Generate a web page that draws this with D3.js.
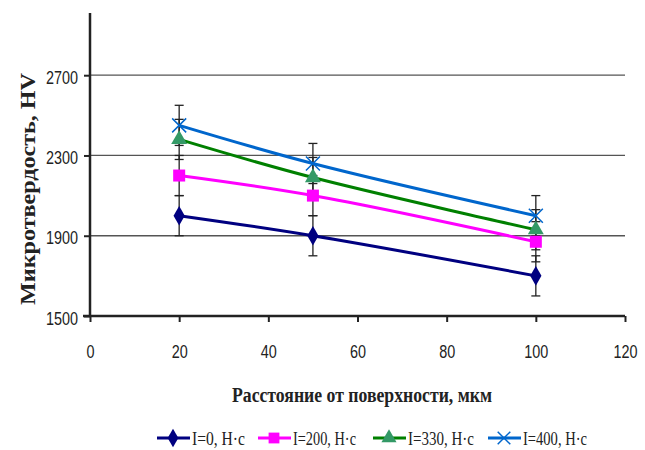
<!DOCTYPE html>
<html>
<head>
<meta charset="utf-8">
<script src="https://cdn.jsdelivr.net/npm/d3@7"></script>
<style>
  body{margin:0;background:#fff;}
  .tick text{font-family:"Liberation Sans",Arial,sans-serif;font-size:18px;fill:#222;}
  .ttl{font-family:"Liberation Serif","Times New Roman",serif;font-weight:bold;font-size:20px;fill:#222;}
  .leg{font-family:"Liberation Serif","Times New Roman",serif;font-size:19px;fill:#222;}
</style>
</head>
<body>
<div id="chart"></div>
<script>
const distances=[20,50,100];
const seriesNames=["I=0, Н·с","I=200, Н·с","I=330, Н·с","I=400, Н·с"];
const hv0=[2000,1900,1700];
const hv200=[2200,2100,1870];
const hv330=[2380,2190,1930];
const hv400=[2450,2260,2000];
const errHV=[100,100,100];
const xTicks=[0,20,40,60,80,100,120];
const yTicks=[1500,1900,2300,2700];

const W=645,H=450;
const svg=d3.select('#chart').append('svg').attr('width',W).attr('height',H);
const x=d3.scaleLinear().domain([0,120]).range([90,625]);
const y=d3.scaleLinear().domain([1500,3000]).range([316,15]);

const series=[
  {name:seriesNames[0],vals:hv0,line:'#000080',fill:'#000080',sym:'diamond'},
  {name:seriesNames[1],vals:hv200,line:'#ff00ff',fill:'#ff00ff',sym:'square'},
  {name:seriesNames[2],vals:hv330,line:'#008000',fill:'#339966',sym:'triangle'},
  {name:seriesNames[3],vals:hv400,line:'#0066cc',fill:'#0066cc',sym:'x'}
];

// сжать текст по ширине (узкий шрифт)
function narrow(sel,k){
  sel.each(function(){
    const w=this.getComputedTextLength();
    d3.select(this).attr('textLength',w*k).attr('lengthAdjust','spacingAndGlyphs');
  });
}

// сетка
svg.append('g').selectAll('line').data(yTicks.slice(1)).join('line')
  .attr('x1',x(0)).attr('x2',x(120)).attr('y1',d=>y(d)).attr('y2',d=>y(d))
  .attr('stroke','#555').attr('stroke-width',1.3);

// оси
const gx=svg.append('g').attr('transform',`translate(0,${y(1500)})`)
  .call(d3.axisBottom(x).tickValues(xTicks).tickSize(6).tickPadding(23));
const gy=svg.append('g').attr('transform',`translate(${x(0)},0)`)
  .call(d3.axisLeft(y).tickValues(yTicks).tickFormat(d3.format('d')).tickSize(6).tickPadding(6));
[gx,gy].forEach(g=>{
  g.select('.domain').attr('stroke','#222').attr('stroke-width',2.5);
  g.selectAll('.tick line').attr('stroke','#222').attr('stroke-width',2);
  narrow(g.selectAll('.tick text'),0.8);
});
gy.selectAll('.tick text').attr('dy','0.45em');
gy.select('.domain').attr('d',`M0,${y(1500)}V13`);
gx.select('.domain').attr('d',`M${x(0)-7},0H${x(120)}`);

// погрешности
const eb=svg.append('g').attr('stroke','#222').attr('stroke-width',1.3);
series.forEach(s=>{
  s.vals.forEach((v,i)=>{
    const cx=x(distances[i]);
    eb.append('line').attr('x1',cx).attr('x2',cx).attr('y1',y(v-errHV[i])).attr('y2',y(v+errHV[i]));
    [v-errHV[i],v+errHV[i]].forEach(e=>{
      eb.append('line').attr('x1',cx-4.5).attr('x2',cx+4.5).attr('y1',y(e)).attr('y2',y(e));
    });
  });
});

const line=d3.line().x((d,i)=>x(distances[i])).y(d=>y(d)).curve(d3.curveCatmullRom.alpha(0.5));

function marker(g,s,cx,cy,sc){
  sc=sc||1;
  if(s.sym==='diamond'){
    g.append('path').attr('d',d3.symbol(d3.symbolDiamond,110*sc)()).attr('transform',`translate(${cx},${cy})`).attr('fill',s.fill);
  }else if(s.sym==='square'){
    g.append('rect').attr('x',cx-6*sc).attr('y',cy-6*sc).attr('width',12*sc).attr('height',12*sc).attr('fill',s.fill);
  }else if(s.sym==='triangle'){
    g.append('path').attr('d',d3.symbol(d3.symbolTriangle,110*sc)()).attr('transform',`translate(${cx},${cy})`).attr('fill',s.fill);
  }else{
    const r=7*sc;
    g.append('path').attr('d',`M${cx-r},${cy-r}L${cx+r},${cy+r}M${cx-r},${cy+r}L${cx+r},${cy-r}`)
      .attr('stroke',s.fill).attr('stroke-width',1.5).attr('fill','none');
  }
}

series.forEach(s=>{
  svg.append('path').datum(s.vals).attr('d',line).attr('fill','none')
    .attr('stroke',s.line).attr('stroke-width',3);
});
series.forEach(s=>{
  const g=svg.append('g');
  s.vals.forEach((v,i)=>marker(g,s,x(distances[i]),y(v)));
});

// подписи осей
svg.append('text').attr('class','ttl').attr('x',362).attr('y',402).attr('text-anchor','middle')
  .attr('textLength',260).attr('lengthAdjust','spacingAndGlyphs')
  .text('Расстояние от поверхности, мкм');
svg.append('text').attr('class','ttl').attr('transform','translate(35,189) rotate(-90)')
  .style('font-size','22px')
  .attr('text-anchor','middle').attr('textLength',232).attr('lengthAdjust','spacingAndGlyphs')
  .text('Микротвердость, HV');

// легенда
const legX=[157,258,373,488];
const legW=[53,63,66,64];
series.forEach((s,i)=>{
  const g=svg.append('g');
  g.append('line').attr('x1',legX[i]).attr('x2',legX[i]+33).attr('y1',438).attr('y2',438)
    .attr('stroke',s.line).attr('stroke-width',3);
  marker(g,s,legX[i]+16,438,0.9);
  g.append('text').attr('class','leg').attr('x',legX[i]+35).attr('y',445)
    .attr('textLength',legW[i]).attr('lengthAdjust','spacingAndGlyphs').text(s.name);
});
</script>
</body>
</html>
